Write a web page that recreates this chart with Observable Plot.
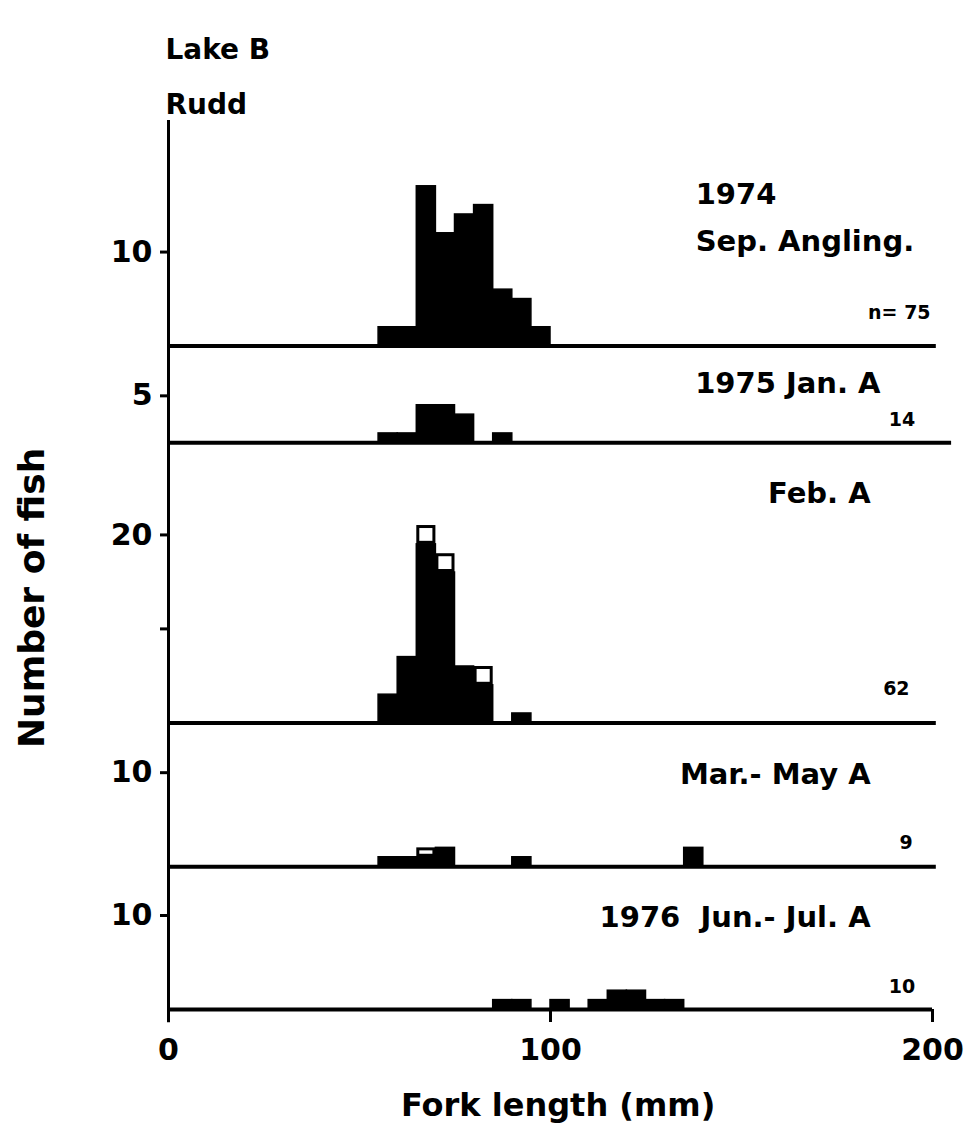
<!DOCTYPE html>
<html><head><meta charset="utf-8">
<script src="https://cdn.jsdelivr.net/npm/d3@7"></script>
<script src="https://cdn.jsdelivr.net/npm/@observablehq/plot@0.6"></script>
<style>body{margin:0;background:#fff} svg{display:block}</style>
</head><body><div id="chart"></div>
<script>
// ---------------- DATA ----------------
const titleLines = ["Lake B", "Rudd"];
const panelTitles = [["1974", "Sep. Angling."], ["1975 Jan. A"], ["Feb. A"], ["Mar.- May A"], ["1976\u00a0 Jun.- Jul. A"]];
const nValues = [75, 14, 62, 9, 10];
const binWidth = 5; // mm

// bin start (mm), solid counts, hollow counts — panels top to bottom
const sepBins   = [55, 60, 65, 70, 75, 80, 85, 90, 95];
const sepSolid  = [2, 2, 17, 12, 14, 15, 6, 5, 2];
const sepHollow = [0, 0, 0, 0, 0, 0, 0, 0, 0];

const janBins   = [55, 60, 65, 70, 75, 85];
const janSolid  = [1, 1, 4, 4, 3, 1];
const janHollow = [0, 0, 0, 0, 0, 0];

const febBins   = [55, 60, 65, 70, 75, 80, 90];
const febSolid  = [3, 7, 19, 16, 6, 4, 1];
const febHollow = [0, 0, 2, 2, 0, 2, 0];

const marBins   = [55, 60, 65, 70, 90, 135];
const marSolid  = [1, 1, 1, 2, 1, 2];
const marHollow = [0, 0, 1, 0, 0, 0];

const junBins   = [85, 90, 100, 110, 115, 120, 125, 130];
const junSolid  = [1, 1, 1, 1, 2, 2, 1, 1];
const junHollow = [0, 0, 0, 0, 0, 0, 0, 0];

const yTickValues = [[10], [5], [10, 20], [10], [10]];
const yTickLabels = [["10"], ["5"], ["", "20"], ["10"], ["10"]];
const xTicks = [0, 100, 200];
const xLabel = "Fork length (mm)";
const yLabel = "Number of fish";

// ---------------- LAYOUT ----------------
const spans = [24.0, 10.3, 29.8, 15.3, 15.2]; // panel heights (fish units), top to bottom
const offsets = [];
{ let acc = 0; for (let i = spans.length - 1; i >= 0; i--) { offsets[i] = acc; acc += spans[i]; } }
const yTop = d3.sum(spans);
const baselineEnd = [201, 205, 201, 201, 200];
const titleLayout = [
  [{x: 138, y: 15.1, anchor: "start"}, {x: 138, y: 10.1, anchor: "start"}],
  [{x: 186.4, y: 5.3, anchor: "end"}],
  [{x: 183.8, y: 23.4, anchor: "end"}],
  [{x: 183.8, y: 8.8, anchor: "end"}],
  [{x: 183.8, y: 8.8, anchor: "end"}]
];
const nLayout = [{x: 199.5, y: 2.9}, {x: 195.5, y: 1.8}, {x: 194, y: 3.0}, {x: 194.8, y: 1.9}, {x: 195.5, y: 1.8}];

// ---------------- BUILD ----------------
const panels = [
  [sepBins, sepSolid, sepHollow], [janBins, janSolid, janHollow], [febBins, febSolid, febHollow],
  [marBins, marSolid, marHollow], [junBins, junSolid, junHollow]
];
const solidRows = [], hollowRows = [];
panels.forEach(([bins, solid, hollow], p) => {
  bins.forEach((b, j) => {
    const o = offsets[p];
    if (solid[j] > 0) solidRows.push({x1: b, x2: b + binWidth, y1: o, y2: o + solid[j]});
    if (hollow[j] > 0) hollowRows.push({x1: b, x2: b + binWidth, y1: o + solid[j], y2: o + solid[j] + hollow[j]});
  });
});
const baselines = offsets.map((o, p) => ({y: o, x2: baselineEnd[p]}));
const tickPos = [], tickLab = new Map();
yTickValues.forEach((vals, p) => vals.forEach((v, k) => {
  const t = offsets[p] + v; tickPos.push(t); tickLab.set(t.toFixed(3), yTickLabels[p][k]);
}));
const titleRows = [];
panelTitles.forEach((lines, p) => lines.forEach((t, k) => {
  const L = titleLayout[p][k];
  titleRows.push({text: t, x: L.x, y: offsets[p] + L.y, anchor: L.anchor});
}));
const nRows = nValues.map((n, p) => ({text: p === 0 ? `n= ${n}` : `${n}`, x: nLayout[p].x, y: offsets[p] + nLayout[p].y}));

const font = "DejaVu Sans";
const chart = Plot.plot({
  width: 979, height: 1143,
  marginLeft: 168, marginRight: 47, marginTop: 120, marginBottom: 134,
  style: {fontFamily: font, fontWeight: "bold", fontSize: "29px", color: "#000", background: "#fff"},
  x: {domain: [0, 200]},
  y: {domain: [0, yTop]},
  marks: [
    Plot.rect(solidRows, {x1: "x1", x2: "x2", y1: "y1", y2: "y2", fill: "#000", stroke: "#000", strokeWidth: 1.5}),
    Plot.rect(hollowRows, {x1: "x1", x2: "x2", y1: "y1", y2: "y2", fill: "#fff", stroke: "#000", strokeWidth: 3, inset: 1.5}),
    Plot.ruleY(baselines, {y: "y", x1: 0, x2: "x2", stroke: "#000", strokeWidth: 4}),
    Plot.ruleX([0], {x: d => d, y1: -1.4, y2: yTop, stroke: "#000", strokeWidth: 3}),
    Plot.axisY({ticks: tickPos, tickFormat: d => tickLab.get(d.toFixed(3)) ?? "", tickSize: 8, tickPadding: 8, strokeWidth: 3, label: null, fontSize: 30}),
    Plot.axisX({ticks: xTicks, tickSize: 13, tickPadding: 16, strokeWidth: 3, label: null, fontSize: 30}),
    Plot.text(titleRows.filter(d => d.anchor === "start"), {x: "x", y: "y", text: "text", textAnchor: "start", lineAnchor: "bottom", fontSize: 29}),
    Plot.text(titleRows.filter(d => d.anchor === "end"), {x: "x", y: "y", text: "text", textAnchor: "end", lineAnchor: "bottom", fontSize: 29}),
    Plot.text(nRows, {x: "x", y: "y", text: "text", textAnchor: "end", lineAnchor: "bottom", fontSize: 19}),
    Plot.text([titleLines[0]], {frameAnchor: "top-left", dx: -3, dy: -62, lineAnchor: "bottom", textAnchor: "start", fontSize: 28}),
    Plot.text([titleLines[1]], {frameAnchor: "top-left", dx: -3, dy: -7, lineAnchor: "bottom", textAnchor: "start", fontSize: 28}),
    Plot.text([yLabel], {x: -35.6, y: 43.8, rotate: -90, textAnchor: "middle", lineAnchor: "middle", fontSize: 36}),
    Plot.text([xLabel], {x: 102, y: -11.3, textAnchor: "middle", lineAnchor: "bottom", fontSize: 32})
  ]
});
document.getElementById("chart").appendChild(chart);
</script>
</body></html>
